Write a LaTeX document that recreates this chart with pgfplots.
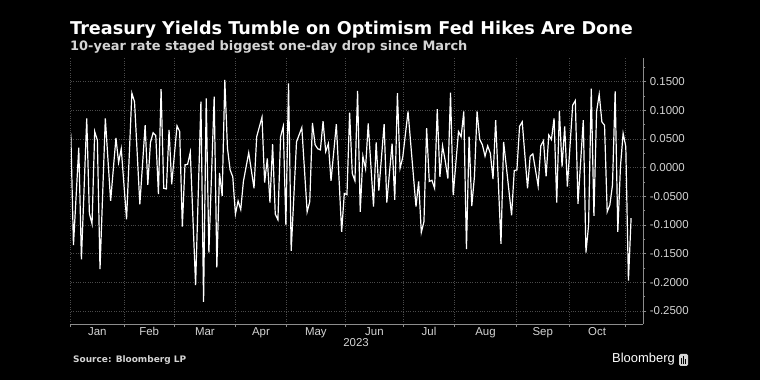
\documentclass[border=0pt]{standalone}
\usepackage{fontspec}
\setmainfont{Liberation Sans}
\newfontfamily\titlefont{DejaVu Sans}
\usepackage{pgfplots}
\pgfplotsset{compat=1.18}
\definecolor{gridc}{HTML}{4A4A4A}
\definecolor{axc}{HTML}{8C8C8C}
\definecolor{txt}{HTML}{D4D4D4}
\begin{document}
\begin{tikzpicture}
\fill[black] (0,0) rectangle (760bp,380bp);
\useasboundingbox (0,0) rectangle (760bp,380bp);
\node[anchor=base west, text=white, font=\titlefont\bfseries\fontsize{17.7}{19}\selectfont, inner sep=0] at (70bp,345bp) {Treasury Yields Tumble on Optimism Fed Hikes Are Done};
\node[anchor=base west, text=txt, font=\titlefont\bfseries\fontsize{13}{14}\selectfont, inner sep=0] at (70bp,329.3bp) {10-year rate staged biggest one-day drop since March};
\begin{axis}[
  at={(70.8bp,56bp)}, anchor=south west, scale only axis,
  width=572.5bp, height=265.7bp,
  xmin=0, xmax=215.6, ymin=-0.2727, ymax=0.1908,
  axis x line*=bottom, axis y line*=right,
  axis line style={axc, line width=0.8bp, -},
  tick align=outside,
  major tick length=3bp, minor tick length=2bp,
  tick style={axc, line width=0.8bp},
  grid=major,
  major grid style={gridc, dotted, line width=0.7bp},
  xtick={0,20,39,62,81.2,103.4,125.3,144.5,167.8,187.7,208.7},
  xticklabels={},
  extra x ticks={10,29.5,50.5,71.6,92.3,114.35,134.9,156.15,177.75,198.2},
  extra x tick labels={Jan,Feb,Mar,Apr,May,Jun,Jul,Aug,Sep,Oct},
  extra x tick style={grid=none, major tick length=0pt},
  xticklabel style={font=\fontsize{11.5}{12}\selectfont, text=txt},
  ytick={-0.25,-0.2,-0.15,-0.1,-0.05,0,0.05,0.1,0.15},
  minor ytick={-0.225,-0.175,-0.125,-0.075,-0.025,0.025,0.075,0.125,0.175},
  scaled y ticks=false,
  yticklabel style={font=\fontsize{11.5}{12}\selectfont, text=txt, anchor=west,
    /pgf/number format/.cd, fixed, fixed zerofill, precision=4, assume math mode=true},
]
\addplot[white, line width=1.2bp, no marks] table {
x y
0 0.060
1 -0.135
3 0.035
4 -0.160
6 0.086
7 -0.080
8 -0.098
9 0.063
10 0.048
11 -0.177
13 0.086
15 -0.058
17 0.052
18 0.009
19 0.033
21 -0.090
23 0.130
24 0.115
26 -0.064
28 0.074
29 -0.030
30 0.044
31 0.061
32 0.056
33 -0.046
34 0.137
35 -0.036
36 -0.037
37 0.066
38 -0.029
40 0.073
41 0.063
42 -0.103
43 0.005
44 0.006
45 0.027
47 -0.205
49 0.115
50 -0.234
51 0.121
52 -0.148
54 0.124
55 -0.174
56 -0.009
57 -0.049
58 0.153
59 0.034
60 -0.004
61 -0.016
62 -0.081
63 -0.058
64 -0.073
65 -0.024
67 0.026
69 -0.036
70 0.054
72 0.088
73 -0.026
74 0.016
75 -0.061
76 0.041
77 -0.081
78 -0.091
79 0.054
80 0.072
81 -0.100
82 0.147
83 -0.145
85 0.045
87 0.070
89 -0.077
90 -0.059
91 0.078
92 0.040
93 0.033
94 0.031
95 0.081
96 0.028
97 0.042
98 -0.023
100 0.076
102 -0.112
103 -0.045
104 -0.047
105 0.096
106 -0.010
107 -0.023
108 0.134
109 -0.077
110 0.020
111 -0.002
112 0.077
114 -0.068
115 0.044
116 -0.040
118 0.076
119 -0.061
121 0.042
122 -0.056
123 0.130
124 -0.001
125 0.018
127 0.098
130 -0.068
131 -0.024
132 -0.113
133 -0.094
134 0.069
135 -0.024
136 -0.022
137 -0.036
138 0.102
139 -0.016
140 0.038
141 0.012
142 -0.019
143 0.131
144 -0.048
146 0.063
147 0.054
148 0.098
149 -0.142
150 0.054
151 -0.067
152 -0.016
153 0.098
154 0.049
155 0.040
156 0.020
157 0.038
158 0.025
159 -0.020
160 0.083
162 -0.133
163 0.045
166 -0.083
167 -0.005
168 -0.004
169 0.072
170 0.080
172 -0.036
173 0.020
174 0.024
176 -0.032
177 0.038
178 0.047
179 -0.015
180 0.057
181 0.049
182 0.086
183 -0.061
184 0.099
185 0.002
186 0.072
187 -0.033
189 0.109
190 0.117
191 -0.063
193 0.083
194 -0.148
195 -0.100
196 0.138
197 -0.084
198 0.098
199 0.128
200 0.080
201 0.074
202 -0.077
203 -0.065
204 -0.030
205 0.133
206 -0.112
207 0.002
208 0.060
209 0.037
210 -0.197
211 -0.088
};
\end{axis}
\node[text=txt, font=\fontsize{11.5}{12}\selectfont, inner sep=0] at (356bp,37bp) {2023};
\node[anchor=base west, text=txt, font=\titlefont\bfseries\fontsize{9}{11}\selectfont, inner sep=0] at (73bp,18bp) {Source: Bloomberg LP};
\node[anchor=base east, text=white, font=\fontsize{13}{14}\selectfont, inner sep=0] at (675bp,18bp) {Bloomberg};
\fill[txt, rounded corners=1.5bp] (679bp,14bp) rectangle (688bp,26bp);
\fill[black] (681bp,16bp) rectangle (682bp,22bp);
\fill[black] (683bp,16bp) rectangle (684bp,24bp);
\fill[black] (685bp,16bp) rectangle (686bp,21bp);
\end{tikzpicture}
\end{document}
